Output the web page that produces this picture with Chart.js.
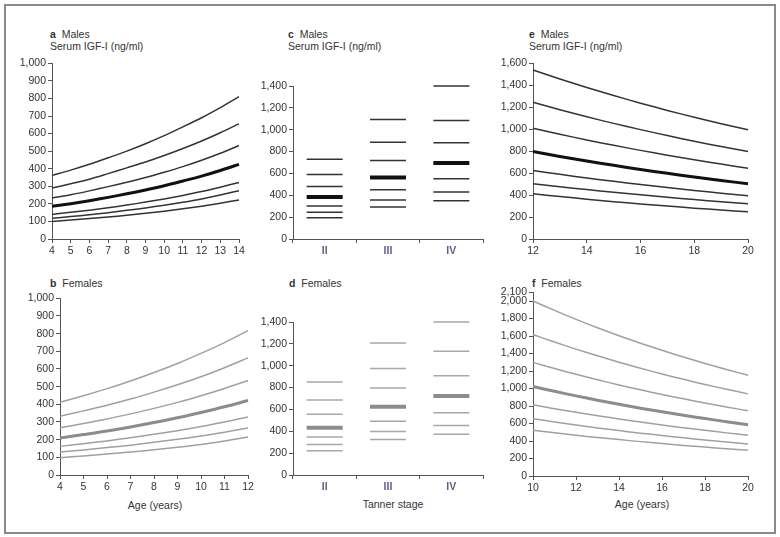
<!DOCTYPE html>
<html>
<head>
<meta charset="utf-8">
<script src="https://cdn.jsdelivr.net/npm/chart.js@4.4.1/dist/chart.umd.min.js"></script>
<style>
  body { margin: 0; background: #fff; font-family: "Liberation Sans", Arial, sans-serif; }
  #fig { position: relative; width: 780px; height: 537px; }
  #frame { position: absolute; left: 4px; top: 4px; width: 768px; height: 526px; border: 2px solid #8a8a8a; }
  .box { position: absolute; }
  .lbl { position: absolute; font-size: 10.5px; color: #333; white-space: nowrap; line-height: 12px; }
  .ctr { transform: translateX(-50%); }
</style>
</head>
<body>
<div id="fig">
  <div id="frame"></div>
  <div class="lbl" style="left:50px;top:28px"><b>a</b>&nbsp; Males</div>
  <div class="lbl" style="left:50px;top:40px">Serum IGF-I (ng/ml)</div>
  <div class="lbl" style="left:288px;top:28px"><b>c</b>&nbsp; Males</div>
  <div class="lbl" style="left:288px;top:40px">Serum IGF-I (ng/ml)</div>
  <div class="lbl" style="left:529px;top:28px"><b>e</b>&nbsp; Males</div>
  <div class="lbl" style="left:529px;top:40px">Serum IGF-I (ng/ml)</div>
  <div class="lbl" style="left:50px;top:277px"><b>b</b>&nbsp; Females</div>
  <div class="lbl" style="left:289px;top:277px"><b>d</b>&nbsp; Females</div>
  <div class="lbl" style="left:532px;top:277px"><b>f</b>&nbsp; Females</div>
  <div class="lbl ctr" style="left:155px;top:499px">Age (years)</div>
  <div class="lbl ctr" style="left:393px;top:498px">Tanner stage</div>
  <div class="lbl ctr" style="left:642px;top:498px">Age (years)</div>
</div>
<script>
// ---- data ----
// a: males by age 4-14, curves top to bottom (4th one is the median)
const aAges = [4, 5, 6, 7, 8, 9, 10, 11, 12, 13, 14];
const aCurves = [
  [362, 392, 425, 462, 500, 542, 588, 638, 690, 748, 810],
  [290, 314, 340, 372, 405, 438, 475, 515, 558, 605, 655],
  [233, 252, 274, 298, 323, 350, 380, 412, 448, 488, 532],
  [186, 201, 218, 237, 257, 279, 303, 330, 358, 390, 425],
  [140, 152, 164, 178, 193, 210, 228, 248, 270, 295, 322],
  [118, 128, 138, 150, 163, 177, 192, 209, 228, 250, 275],
  [100, 108, 116, 125, 135, 146, 158, 172, 187, 204, 222]
];
// b: females by age 4-12
const bAges = [4, 5, 6, 7, 8, 9, 10, 11, 12];
const bCurves = [
  [412, 449, 489, 532, 580, 631, 688, 749, 817],
  [333, 363, 395, 430, 469, 511, 556, 607, 663],
  [267, 291, 317, 346, 377, 411, 449, 490, 535],
  [210, 229, 249, 272, 297, 324, 354, 386, 422],
  [162, 177, 193, 211, 230, 251, 274, 300, 328],
  [130, 142, 155, 169, 185, 202, 221, 242, 266],
  [98, 108, 119, 130, 143, 157, 173, 193, 215]
];
// c, d: by Tanner stage, one array per percentile line [II, III, IV]
const stages = ["II", "III", "IV"];
const cLevels = [
  [729, 1094, 1400],
  [590, 885, 1085],
  [481, 718, 880],
  [384, 562, 696],
  [301, 451, 551],
  [245, 356, 431],
  [195, 292, 351]
];
const dLevels = [
  [850, 1207, 1400],
  [687, 975, 1132],
  [556, 796, 908],
  [433, 625, 724],
  [347, 492, 570],
  [279, 397, 453],
  [221, 324, 372]
];
// e: males 12-20
const eAges = [12, 13, 14, 15, 16, 17, 18, 19, 20];
const eCurves = [
  [1539, 1457, 1380, 1307, 1237, 1171, 1109, 1050, 994],
  [1245, 1177, 1113, 1053, 996, 942, 890, 842, 797],
  [1009, 954, 902, 853, 807, 763, 721, 682, 645],
  [797, 752, 710, 671, 633, 598, 565, 533, 503],
  [624, 589, 556, 525, 496, 468, 442, 417, 394],
  [503, 476, 450, 425, 402, 380, 359, 340, 321],
  [412, 387, 363, 340, 319, 300, 281, 264, 248]
];
// f: females 10-20
const fAges = [10, 11, 12, 13, 14, 15, 16, 17, 18, 19, 20];
const fCurves = [
  [2000, 1893, 1791, 1695, 1604, 1518, 1437, 1360, 1287, 1218, 1152],
  [1617, 1531, 1450, 1374, 1301, 1232, 1167, 1105, 1047, 991, 939],
  [1299, 1229, 1163, 1100, 1041, 985, 932, 882, 834, 789, 746],
  [1023, 968, 916, 866, 820, 775, 734, 694, 657, 621, 587],
  [814, 770, 728, 689, 652, 616, 583, 551, 522, 493, 466],
  [655, 618, 583, 550, 519, 490, 463, 437, 412, 389, 367],
  [523, 494, 466, 440, 416, 393, 371, 350, 331, 312, 295]
];
const fYTicks = [0, 200, 400, 600, 800, 1000, 1200, 1400, 1600, 1800, 2000, 2100];

// ---- layout ----
const YW = 44, XH = 24, PADL = 2, PADT = 8, PADR = 10;
const fontSpec = { family: "'Liberation Sans', Arial, sans-serif", size: 10.5 };
const axisCol = "#555";

function makeBox(L, T, R, B) {
  let div = document.createElement("div");
  div.className = "box";
  let w = (R - L) + YW + PADL + PADR;
  let h = (B - T) + PADT + XH;
  div.style.left = (L - YW - PADL) + "px";
  div.style.top = (T - PADT) + "px";
  let cv = document.createElement("canvas");
  cv.width = w; cv.height = h;
  cv.style.width = w + "px"; cv.style.height = h + "px";
  div.appendChild(cv);
  document.getElementById("fig").appendChild(div);
  return cv;
}

function yScale(max, step, ticks) {
  let s = {
    min: 0, max: max,
    grid: { drawOnChartArea: false, tickLength: 4, color: axisCol },
    border: { color: axisCol, width: 1 },
    ticks: { stepSize: step, autoSkip: false, padding: 2, color: "#333", font: fontSpec },
    afterFit: sc => { sc.width = YW; }
  };
  if (ticks) s.afterBuildTicks = ax => { ax.ticks = ticks.map(v => ({ value: v })); };
  return s;
}

function xLinear(min, max, step) {
  return {
    type: "linear", min: min, max: max,
    grid: { drawOnChartArea: false, tickLength: 4, color: axisCol },
    border: { color: axisCol, width: 1 },
    ticks: { stepSize: step, padding: 2, color: "#333", font: fontSpec, maxRotation: 0 },
    afterFit: sc => { sc.height = XH; }
  };
}

function curvePanel(box, ages, curves, xr, yr, thin, thick) {
  let cv = makeBox(box[0], box[1], box[2], box[3]);
  let datasets = curves.map((c, i) => ({
    data: c.map((v, j) => ({ x: ages[j], y: v })),
    borderColor: i === 3 ? thick : thin,
    borderWidth: i === 3 ? 3 : 1.5,
    pointRadius: 0,
    tension: 0.3,
    clip: false
  }));
  new Chart(cv, {
    type: "line",
    data: { datasets: datasets },
    options: {
      responsive: false, animation: false,
      layout: { padding: { left: PADL, top: PADT, right: PADR, bottom: 0 } },
      plugins: { legend: { display: false }, tooltip: { enabled: false } },
      scales: { x: xr, y: yr }
    }
  });
}

function stagePanel(box, levels, yMax, thin, thick, tickCol) {
  let cv = makeBox(box[0], box[1], box[2], box[3]);
  let datasets = levels.map((lv, i) => ({
    data: lv,
    showLine: false,
    pointStyle: "line",
    pointRadius: 18,
    pointBorderWidth: i === 3 ? 4 : 1.5,
    pointBorderColor: i === 3 ? thick : thin,
    borderColor: i === 3 ? thick : thin,
    clip: false
  }));
  new Chart(cv, {
    type: "line",
    data: { labels: stages, datasets: datasets },
    options: {
      responsive: false, animation: false,
      layout: { padding: { left: PADL, top: PADT, right: PADR, bottom: 0 } },
      plugins: { legend: { display: false }, tooltip: { enabled: false } },
      scales: {
        x: {
          type: "category", offset: true,
          grid: { offset: true, drawOnChartArea: false, tickLength: 4, color: axisCol },
          border: { color: axisCol, width: 1 },
          ticks: { padding: 2, color: tickCol, font: Object.assign({}, fontSpec, { weight: "bold" }) },
          afterFit: sc => { sc.height = XH; }
        },
        y: yScale(yMax, 200)
      }
    }
  });
}

// top row (males, dark lines)
curvePanel([52, 63, 239, 239], aAges, aCurves, xLinear(4, 14, 1), yScale(1000, 100), "#333", "#111");
stagePanel([293, 72, 495, 239], cLevels, 1400, "#333", "#111", "#6a5a88");
curvePanel([533, 63, 748, 239], eAges, eCurves, xLinear(12, 20, 2), yScale(1600, 200), "#333", "#111");
// bottom row (females, grey lines)
curvePanel([60, 298, 248, 475], bAges, bCurves, xLinear(4, 12, 1), yScale(1000, 100), "#a0a0a0", "#8c8c8c");
stagePanel([293, 308, 495, 475], dLevels, 1400, "#a8a8a8", "#8c8c8c", "#6a5a88");
curvePanel([533, 292, 748, 476], fAges, fCurves, xLinear(10, 20, 2), yScale(2100, 200, fYTicks), "#a0a0a0", "#8c8c8c");
</script>
</body>
</html>
